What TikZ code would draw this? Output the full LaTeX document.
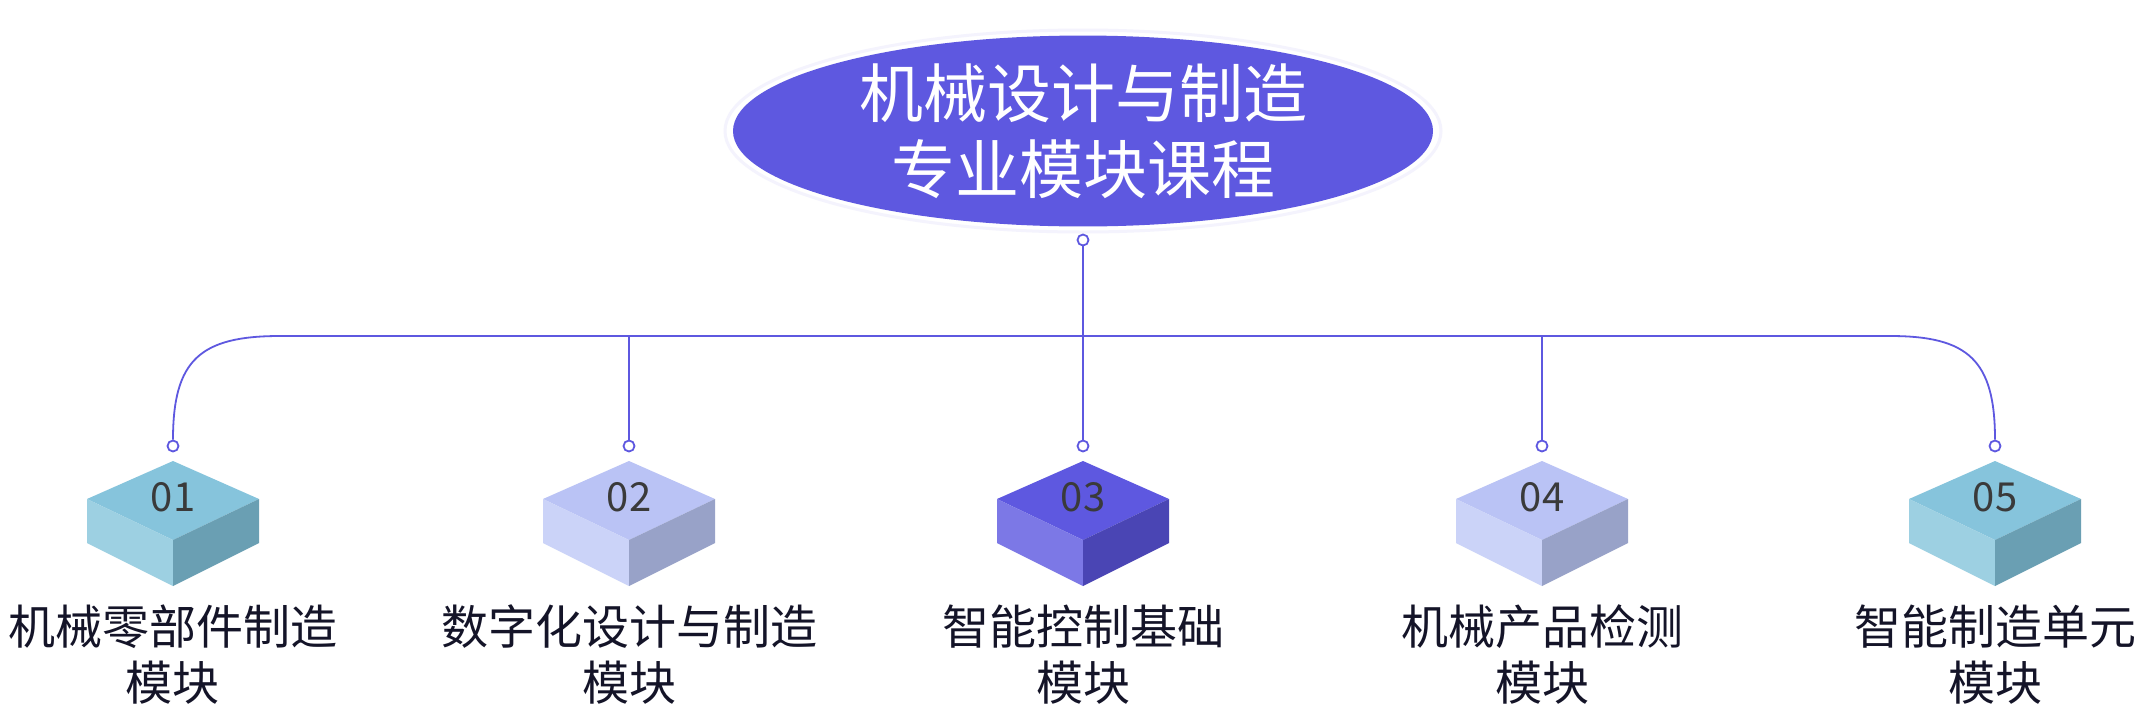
\documentclass[tikz,border=0pt]{standalone}
\usetikzlibrary{shapes.geometric}
\usepackage{fontspec}
\setmainfont{Noto Sans CJK SC}
\begin{document}
\begin{tikzpicture}[x=1pt,y=-1pt,
  conn/.style={draw=lineC,line width=1.8pt},
  dot/.style={circle,draw=lineC,fill=white,line width=1.8pt,minimum size=11pt,inner sep=0pt},
  num/.style={font=\fontsize{40}{44}\selectfont,text=numC},
  lab/.style={font=\fontsize{47}{56}\selectfont,text=labC,align=center}]
\definecolor{lineC}{HTML}{5E58E0}
\definecolor{numC}{HTML}{3A3A3A}
\definecolor{labC}{HTML}{141428}
\definecolor{aT}{HTML}{86C4DC}\definecolor{aL}{HTML}{9DD0E2}\definecolor{aR}{HTML}{6A9FB3}
\definecolor{bT}{HTML}{BAC3F5}\definecolor{bL}{HTML}{CBD3F8}\definecolor{bR}{HTML}{98A2C8}
\definecolor{cT}{HTML}{5E58E0}\definecolor{cL}{HTML}{7C78E6}\definecolor{cR}{HTML}{4A45B4}
\useasboundingbox (0,0) rectangle (2150,716);
\fill[white] (0,0) rectangle (2150,716);
\draw[white!93!lineC, line width=3pt] (1083,131) ellipse [x radius=358, y radius=101];
\node[ellipse,fill=lineC,minimum width=700pt,minimum height=186pt,inner sep=0pt,
  text=white,align=center,font=\fontsize{64}{76}\selectfont] (root) at (1083,131) {机械设计与制造\\专业模块课程};
\node[dot] (top) at (1083,240) {};
\coordinate (hub) at (1083,336);
\draw[conn] (top) -- (hub);
\draw[conn] (280,336) -- (1890,336);
\foreach \i/\x/\c/\t in {1/173/a/01,2/629/b/02,3/1083/c/03,4/1542/b/04,5/1995/a/05}{
  \begin{scope}[shift={(\x,0)}]
  \fill[\c T] (0,461) -- (-86,499) -- (0,540) -- (86,499) -- cycle;
  \fill[\c L] (-86,499) -- (0,540) -- (0,586) -- (-86,543) -- cycle;
  \fill[\c R] (86,499) -- (0,540) -- (0,586) -- (86,543) -- cycle;
  \end{scope}
  \node[dot] (d\i) at (\x,446) {};
  \node[num] (n\i) at (\x,497) {\t};
}
\draw[conn] (d1) .. controls (173,360) and (200,336) .. (280,336);
\draw[conn] (d5) .. controls (1995,360) and (1968,336) .. (1890,336);
\coordinate (h2) at (629,336); \coordinate (h4) at (1542,336);
\draw[conn] (h2) -- (d2);
\draw[conn] (hub) -- (d3);
\draw[conn] (h4) -- (d4);
\node[lab] (l1) at (173,655) {机械零部件制造\\模块};
\node[lab] (l2) at (629,655) {数字化设计与制造\\模块};
\node[lab] (l3) at (1083,655) {智能控制基础\\模块};
\node[lab] (l4) at (1542,655) {机械产品检测\\模块};
\node[lab] (l5) at (1995,655) {智能制造单元\\模块};
\end{tikzpicture}
\end{document}
